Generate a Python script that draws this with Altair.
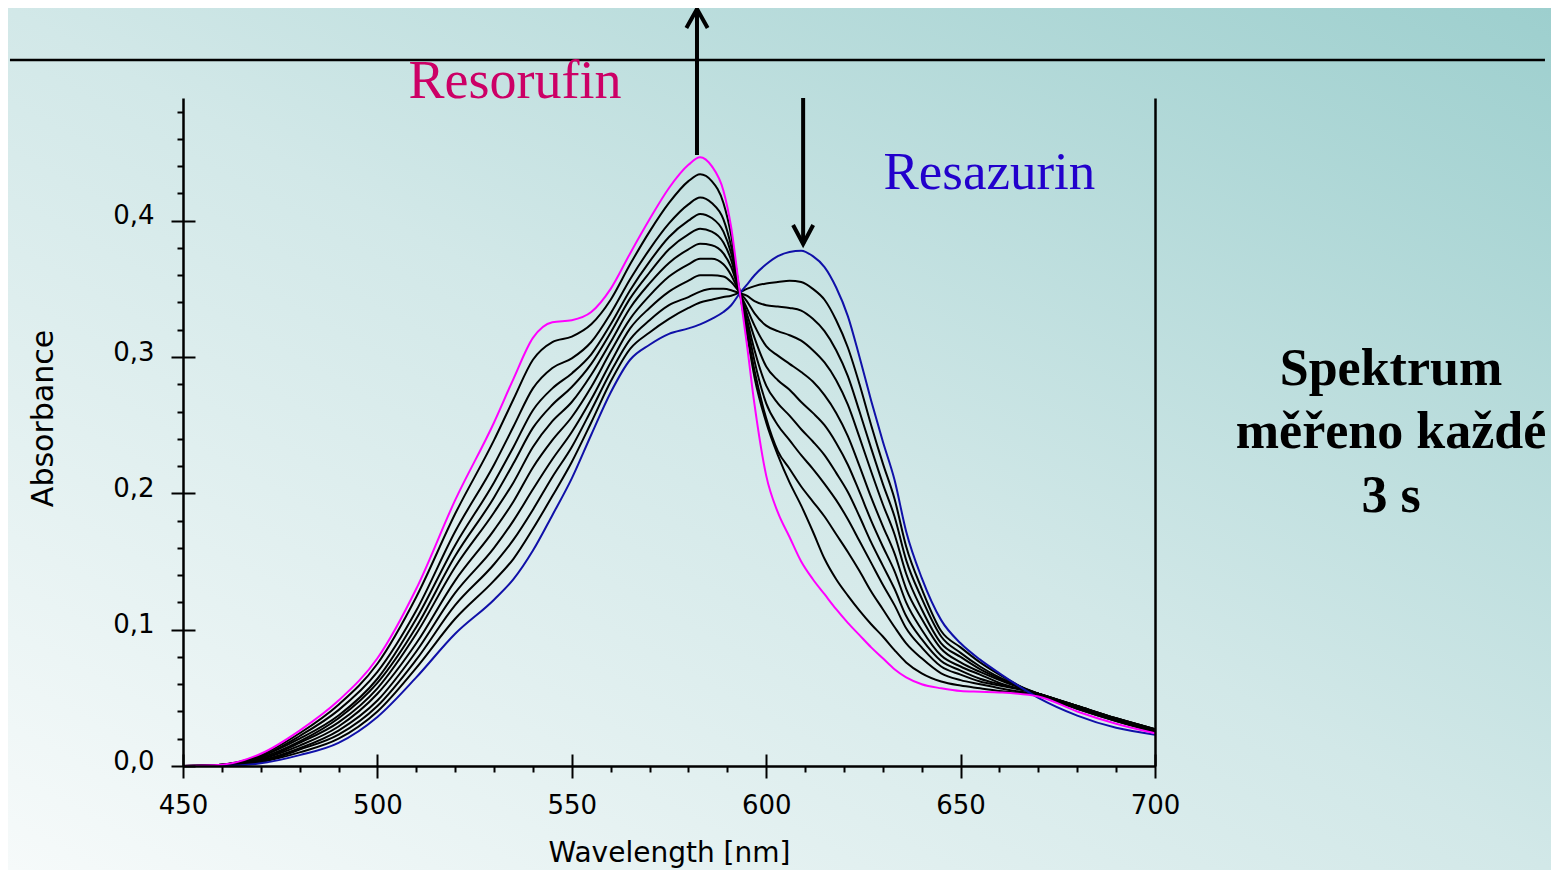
import altair as alt
import pandas as pd

# ---------------- data ----------------
wavelength = [450, 460, 470, 480, 490, 500, 510, 520, 530, 535,
              540, 545, 550, 555, 560, 565, 570, 575, 580, 583,
              586, 589, 591, 593, 595, 597, 600, 603, 606, 609,
              612, 615, 618, 621, 624, 627, 630, 633, 636, 640,
              645, 650, 655, 660, 670, 680, 690, 700]

resazurin = [0.000, 0.000, 0.002, 0.008, 0.017, 0.036, 0.065, 0.097, 0.122, 0.137,
             0.158, 0.184, 0.211, 0.243, 0.274, 0.298, 0.309, 0.317, 0.321, 0.324,
             0.328, 0.333, 0.338, 0.346, 0.353, 0.360, 0.368, 0.374, 0.377, 0.378,
             0.374, 0.366, 0.351, 0.330, 0.300, 0.268, 0.238, 0.210, 0.172, 0.138,
             0.107, 0.090, 0.078, 0.068, 0.050, 0.037, 0.028, 0.023]

resorufin = [0.000, 0.001, 0.009, 0.026, 0.048, 0.079, 0.130, 0.195, 0.252, 0.284,
             0.314, 0.3255, 0.327, 0.333, 0.350, 0.376, 0.401, 0.424, 0.441, 0.4466,
             0.440, 0.422, 0.395, 0.352, 0.310, 0.265, 0.213, 0.186, 0.168, 0.150,
             0.137, 0.126, 0.115, 0.105, 0.096, 0.087, 0.079, 0.071, 0.065, 0.060,
             0.057, 0.055, 0.0545, 0.054, 0.051, 0.040, 0.031, 0.024]

scan_1 = [0.000, 0.001, 0.008, 0.024, 0.045, 0.075, 0.124, 0.185, 0.239, 0.269,
          0.298, 0.311, 0.315, 0.324, 0.342, 0.368, 0.392, 0.413, 0.429, 0.434,
          0.429, 0.413, 0.389, 0.351, 0.318, 0.285, 0.252, 0.228, 0.208, 0.191,
          0.172, 0.152, 0.137, 0.125, 0.114, 0.104, 0.095, 0.085, 0.076, 0.068,
          0.062, 0.059, 0.057, 0.055, 0.052, 0.042, 0.033, 0.025]

scan_2 = [0.000, 0.001, 0.007, 0.022, 0.041, 0.069, 0.114, 0.172, 0.221, 0.249,
          0.277, 0.292, 0.299, 0.311, 0.332, 0.357, 0.379, 0.398, 0.412, 0.417,
          0.413, 0.401, 0.381, 0.351, 0.320, 0.290, 0.255, 0.231, 0.218, 0.205,
          0.194, 0.183, 0.170, 0.157, 0.143, 0.128, 0.115, 0.102, 0.090, 0.079,
          0.068, 0.063, 0.060, 0.057, 0.052, 0.043, 0.034, 0.026]

scan_3 = [0.000, 0.001, 0.007, 0.020, 0.037, 0.064, 0.108, 0.162, 0.208, 0.234,
          0.261, 0.277, 0.288, 0.302, 0.324, 0.349, 0.370, 0.388, 0.400, 0.405,
          0.402, 0.392, 0.376, 0.350, 0.325, 0.297, 0.266, 0.250, 0.239, 0.228,
          0.218, 0.207, 0.195, 0.181, 0.165, 0.149, 0.133, 0.118, 0.101, 0.087,
          0.073, 0.067, 0.062, 0.059, 0.053, 0.043, 0.034, 0.026]

scan_4 = [0.000, 0.001, 0.006, 0.018, 0.035, 0.061, 0.102, 0.154, 0.197, 0.222,
          0.248, 0.265, 0.278, 0.295, 0.318, 0.343, 0.362, 0.379, 0.390, 0.394,
          0.392, 0.384, 0.371, 0.349, 0.328, 0.305, 0.279, 0.266, 0.257, 0.247,
          0.238, 0.228, 0.215, 0.201, 0.183, 0.164, 0.147, 0.130, 0.110, 0.093,
          0.077, 0.070, 0.064, 0.060, 0.053, 0.044, 0.035, 0.027]

scan_5 = [0.000, 0.001, 0.005, 0.017, 0.032, 0.057, 0.097, 0.146, 0.186, 0.208,
          0.234, 0.253, 0.267, 0.287, 0.311, 0.336, 0.354, 0.369, 0.379, 0.383,
          0.382, 0.376, 0.366, 0.349, 0.332, 0.314, 0.293, 0.283, 0.276, 0.267,
          0.259, 0.250, 0.237, 0.221, 0.201, 0.180, 0.161, 0.143, 0.120, 0.100,
          0.081, 0.073, 0.067, 0.061, 0.053, 0.044, 0.035, 0.027]

scan_6 = [0.000, 0.000, 0.005, 0.015, 0.029, 0.053, 0.090, 0.136, 0.173, 0.194,
          0.219, 0.239, 0.256, 0.278, 0.304, 0.328, 0.345, 0.359, 0.368, 0.372,
          0.372, 0.368, 0.360, 0.348, 0.336, 0.323, 0.308, 0.301, 0.295, 0.289,
          0.282, 0.272, 0.259, 0.242, 0.220, 0.197, 0.176, 0.156, 0.130, 0.108,
          0.086, 0.076, 0.069, 0.063, 0.053, 0.044, 0.035, 0.027]

scan_7 = [0.000, 0.000, 0.004, 0.013, 0.026, 0.048, 0.084, 0.127, 0.160, 0.180,
          0.203, 0.225, 0.245, 0.269, 0.296, 0.321, 0.336, 0.348, 0.356, 0.360,
          0.360, 0.359, 0.355, 0.348, 0.341, 0.332, 0.323, 0.319, 0.316, 0.312,
          0.305, 0.296, 0.283, 0.265, 0.241, 0.216, 0.192, 0.170, 0.141, 0.115,
          0.090, 0.080, 0.071, 0.064, 0.053, 0.044, 0.034, 0.026]

scan_8 = [0.000, 0.000, 0.003, 0.012, 0.023, 0.044, 0.078, 0.118, 0.148, 0.166,
          0.188, 0.212, 0.234, 0.261, 0.289, 0.313, 0.327, 0.338, 0.344, 0.348,
          0.350, 0.350, 0.349, 0.347, 0.345, 0.341, 0.338, 0.337, 0.336, 0.334,
          0.328, 0.319, 0.305, 0.286, 0.260, 0.233, 0.207, 0.183, 0.151, 0.123,
          0.095, 0.083, 0.073, 0.065, 0.053, 0.043, 0.034, 0.026]

scan_9 = [0.000, 0.000, 0.003, 0.010, 0.020, 0.040, 0.072, 0.108, 0.136, 0.152,
          0.174, 0.198, 0.223, 0.252, 0.282, 0.306, 0.318, 0.328, 0.336, 0.340,
          0.342, 0.344, 0.345, 0.347, 0.350, 0.352, 0.354, 0.355, 0.356, 0.355,
          0.350, 0.342, 0.327, 0.307, 0.280, 0.250, 0.222, 0.196, 0.161, 0.130,
          0.099, 0.087, 0.076, 0.067, 0.052, 0.042, 0.033, 0.025]

series_names = ["s01", "s02", "s03", "s04", "s05", "s06", "s07", "s08", "s09",
                "Resazurin", "Resorufin"]
series_values = [scan_1, scan_2, scan_3, scan_4, scan_5, scan_6, scan_7, scan_8,
                 scan_9, resazurin, resorufin]
series_colors = ["#000000"] * 9 + ["#1010A8", "#FF00FF"]

x_major = [450, 500, 550, 600, 650, 700]
x_minor = [460, 470, 480, 490, 510, 520, 530, 540, 560, 570, 580, 590,
           610, 620, 630, 640, 660, 670, 680, 690]
y_major = [0.0, 0.1, 0.2, 0.3, 0.4]
y_minor = [0.02, 0.04, 0.06, 0.08, 0.12, 0.14, 0.16, 0.18, 0.22, 0.24, 0.26,
           0.28, 0.32, 0.34, 0.36, 0.38, 0.42, 0.44, 0.46, 0.48]

# annotation anchors in data units (wavelength nm, absorbance)
label_text = ["Resorufin", "Resazurin"]
label_wl = [535.4, 657.4]
label_ab = [0.490, 0.4232]

note_lines = ["Spektrum", "měřeno každé", "3 s"]
note_wl = [760.7, 760.7, 760.7]
note_ab = [0.2795, 0.2333, 0.1863]

# straight lines: top rule, up arrow, down arrow
rule_x = [405.5]
rule_x2 = [800.3]
rule_y = [0.5179]
arrow_x = [582.2, 609.5]
arrow_y = [0.4482, 0.4900]
arrow_y2 = [0.5553, 0.3829]

# ---------------- build ----------------
rows = []
for name, vals in zip(series_names, series_values):
    for w, v in zip(wavelength, vals):
        rows.append({"wavelength": w, "absorbance": v, "series": name})
curves_df = pd.DataFrame(rows)

X_DOM = [450, 700]
Y_DOM = [0, 0.49]
W, H = 972, 668
PAD = {"left": 175, "top": 90, "right": 396, "bottom": 104}

FONT = "DejaVu Sans"
SERIF = "Liberation Serif"

xs = alt.Scale(domain=X_DOM, nice=False, zero=False)
ys = alt.Scale(domain=Y_DOM, nice=False, zero=False)

grad = alt.LinearGradient(
    gradient="linear",
    stops=[alt.GradientStop(color="#f6fafa", offset=0),
           alt.GradientStop(color="#d2e8e8", offset=0.5),
           alt.GradientStop(color="#9dcfce", offset=1)],
    x1=0, y1=1, x2=1, y2=0)

bg = alt.Chart(pd.DataFrame({"k": [0]})).mark_rect(fill=grad).encode(
    x=alt.value(-PAD["left"]), x2=alt.value(W + PAD["right"]),
    y=alt.value(-PAD["top"]), y2=alt.value(H + PAD["bottom"]))

curves = alt.Chart(curves_df).mark_line(strokeWidth=2, interpolate="monotone").encode(
    x=alt.X("wavelength:Q", scale=xs,
            axis=alt.Axis(orient="bottom", offset=-12, values=x_major, tickSize=24,
                          tickWidth=2, tickColor="black", domain=False, grid=False,
                          labelFont=FONT, labelFontSize=26, labelColor="black",
                          labelPadding=14, labelFlush=False, labelOverlap=False,
                          title=None, zindex=2)),
    y=alt.Y("absorbance:Q", scale=ys,
            axis=alt.Axis(orient="left", offset=-12, values=y_major, tickSize=24,
                          tickWidth=2, tickColor="black", domain=False, grid=False,
                          labelFont=FONT, labelFontSize=26, labelColor="black",
                          labelPadding=17, labelOffset=-5, labelFlush=False,
                          labelOverlap=False,
                          labelExpr="replace(format(datum.value, '.1f'), '.', ',')",
                          title=None, zindex=2)),
    color=alt.Color("series:N", scale=alt.Scale(domain=series_names, range=series_colors),
                    legend=None),
    detail="series:N",
)

rules_df = pd.DataFrame({"x": rule_x, "x2": rule_x2, "y": rule_y})
top_rule = alt.Chart(rules_df).mark_rule(strokeWidth=2.5, color="black").encode(
    x=alt.X("x:Q", scale=xs,
            axis=alt.Axis(orient="bottom", offset=0, values=x_minor, tickSize=6,
                          tickWidth=2, tickColor="black", domain=True, domainWidth=2.5,
                          domainColor="black", labels=False, grid=False,
                          title="Wavelength [nm]", titleFont=FONT, titleFontSize=28,
                          titleFontWeight="normal", titleColor="black",
                          titleX=486, titleY=95, titleAlign="center",
                          titleBaseline="alphabetic", zindex=2)),
    x2="x2:Q",
    y=alt.Y("y:Q", scale=ys,
            axis=alt.Axis(orient="left", offset=0, values=y_minor, tickSize=6,
                          tickWidth=2, tickColor="black", domain=True, domainWidth=2.5,
                          domainColor="black", labels=False, grid=False,
                          title="Absorbance", titleFont=FONT, titleFontSize=30,
                          titleFontWeight="normal", titleColor="black",
                          titleX=-140, titleY=320, titleAngle=270,
                          titleAlign="center", titleBaseline="middle", zindex=2)),
)

arrows_df = pd.DataFrame({"x": arrow_x, "y": arrow_y, "y2": arrow_y2})
arrows = alt.Chart(arrows_df).mark_rule(strokeWidth=4, color="black").encode(
    x=alt.X("x:Q", scale=xs, axis=None),
    y=alt.Y("y:Q", scale=ys,
            axis=alt.Axis(orient="right", domain=True, domainWidth=2.5,
                          domainColor="black", ticks=False, labels=False,
                          grid=False, title=None, zindex=2)),
    y2="y2:Q",
)

up_head = alt.Chart(pd.DataFrame({"x": [arrow_x[0]], "y": [arrow_y2[0]]})).mark_point(
    shape="M -0.56 1 L 0 0 L 0.56 1", filled=False, size=1444, strokeWidth=4,
    color="black", opacity=1).encode(
    x=alt.X("x:Q", scale=xs, axis=None), y=alt.Y("y:Q", scale=ys, axis=None))

down_head = alt.Chart(pd.DataFrame({"x": [arrow_x[1]], "y": [arrow_y2[1]]})).mark_point(
    shape="M -0.53 -1 L 0 0 L 0.53 -1", filled=False, size=1444, strokeWidth=4,
    color="black", opacity=1).encode(
    x=alt.X("x:Q", scale=xs, axis=None), y=alt.Y("y:Q", scale=ys, axis=None))

lab1 = alt.Chart(pd.DataFrame({"t": [label_text[0]], "x": [label_wl[0]], "y": [label_ab[0]]})).mark_text(
    font=SERIF, fontSize=54, color="#CC0066", align="center", baseline="alphabetic").encode(
    x=alt.X("x:Q", scale=xs, axis=None), y=alt.Y("y:Q", scale=ys, axis=None), text="t:N")

lab2 = alt.Chart(pd.DataFrame({"t": [label_text[1]], "x": [label_wl[1]], "y": [label_ab[1]]})).mark_text(
    font=SERIF, fontSize=53, color="#2200CC", align="center", baseline="alphabetic").encode(
    x=alt.X("x:Q", scale=xs, axis=None), y=alt.Y("y:Q", scale=ys, axis=None), text="t:N")

note = alt.Chart(pd.DataFrame({"t": note_lines, "x": note_wl, "y": note_ab})).mark_text(
    font=SERIF, fontSize=52, fontWeight="bold", color="black", align="center",
    baseline="alphabetic").encode(
    x=alt.X("x:Q", scale=xs, axis=None), y=alt.Y("y:Q", scale=ys, axis=None), text="t:N")

chart = alt.layer(bg, curves, top_rule, arrows, up_head, down_head, lab1, lab2, note).resolve_axis(
    x="independent", y="independent"
).properties(
    width=W, height=H,
    autosize=alt.AutoSizeParams(type="none"),
    padding=PAD,
).configure_view(stroke=None).configure(background="white")

chart.save("out.html", embed_options={"renderer": "svg", "actions": False})
